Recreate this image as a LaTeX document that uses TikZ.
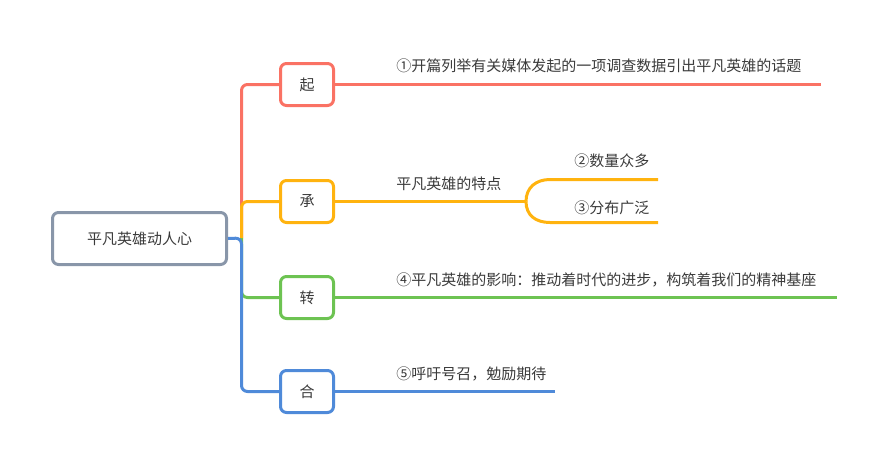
\documentclass[tikz,border=0pt]{standalone}
\usepackage{fontspec}
\newfontfamily\cjk{Noto Sans CJK SC}
\definecolor{qired}{HTML}{FA7264}
\definecolor{chengorange}{HTML}{FFB30F}
\definecolor{zhuangreen}{HTML}{6DC352}
\definecolor{heblue}{HTML}{4F8AD9}
\definecolor{rootgray}{HTML}{8996A9}
\definecolor{textgray}{HTML}{3A3A3A}
\tikzstyle{topic}=[draw, line width=3*0.75pt, rounded corners=6*0.75pt, inner sep=0, text=textgray, font=\cjk\fontsize{11.25}{13}\selectfont]
\tikzstyle{roottopic}=[topic, draw=rootgray, minimum width=174*0.75pt, minimum height=52*0.75pt]
\tikzstyle{subtopic}=[topic, minimum width=53*0.75pt, minimum height=42*0.75pt]
\tikzstyle{linetext}=[anchor=west, inner sep=0, text=textgray, font=\cjk\fontsize{11.25}{13}\selectfont]
\tikzstyle{branch}=[line width=3*0.75pt, rounded corners=6*0.75pt]
\begin{document}
\begin{tikzpicture}[x=0.75pt, y=-0.75pt]
        \useasboundingbox (0,0) rectangle (886,465);
        \node[roottopic]                      (root)  at (139.5, 238.5) {平凡英雄动人心};
        \node[subtopic, draw=qired]           (qi)    at (307, 84.5)    {起};
        \node[subtopic, draw=chengorange]     (cheng) at (307, 201.5)   {承};
        \node[subtopic, draw=zhuangreen]      (zhuan) at (307, 297.5)   {转};
        \node[subtopic, draw=heblue]          (he)    at (307, 391.5)   {合};
        \coordinate (trunk)  at (241.5, 238);
        \coordinate (fork)   at (526, 201.5);
        \coordinate (shuA)   at (556, 179.5);
        \coordinate (fenA)   at (556, 222.5);
        \coordinate (qiend)    at (821, 84.5);
        \coordinate (shuend)   at (658, 179.5);
        \coordinate (fenend)   at (658, 222.5);
        \coordinate (zhuanend) at (837, 297.5);
        \coordinate (heend)    at (555, 391.5);
        \node[linetext] (qitext)    at (396, 66)  {①开篇列举有关媒体发起的一项调查数据引出平凡英雄的话题};
        \node[linetext] (chengtext) at (396, 184) {平凡英雄的特点};
        \node[linetext] (shutext)   at (574, 161) {②数量众多};
        \node[linetext] (fentext)   at (574, 208) {③分布广泛};
        \node[linetext] (zhuantext) at (396, 280) {④平凡英雄的影响：推动着时代的进步，构筑着我们的精神基座};
        \node[linetext] (hetext)    at (396, 374) {⑤呼吁号召，勉励期待};
        \draw[branch, qired] (trunk) |- (qi.west);
        \draw[branch, chengorange] (trunk) |- (cheng.west);
        \draw[branch, zhuangreen] (trunk) |- (zhuan.west);
        \draw[branch, heblue] (root.east) -- (trunk) |- (he.west);
        \draw[branch, qired] (qi.east) -- (qiend);
        \draw[branch, chengorange] (cheng.east) -- (fork);
        \draw[branch, chengorange] (fork) .. controls +(0,-14) and +(-20,0) .. (shuA) -- (shuend);
        \draw[branch, chengorange] (fork) .. controls +(0,14) and +(-20,0) .. (fenA) -- (fenend);
        \draw[branch, zhuangreen] (zhuan.east) -- (zhuanend);
        \draw[branch, heblue] (he.east) -- (heend);
\end{tikzpicture}
\end{document}
